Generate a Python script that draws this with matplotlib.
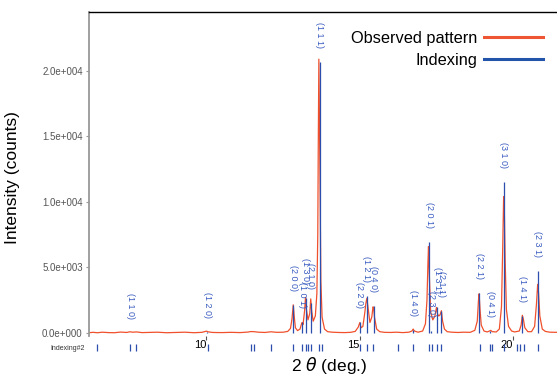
import numpy as np
import matplotlib
matplotlib.use("Agg")
import matplotlib.pyplot as plt
from matplotlib.lines import Line2D
import matplotlib.transforms as mtransforms

plt.rcParams['font.family'] = ['Liberation Sans', 'DejaVu Sans']

# observed pattern (2theta, counts)
obs_2theta = [6.17, 6.30, 6.45, 6.60, 6.80, 7.00, 7.20, 7.40, 7.50, 7.60,
              7.72, 7.90, 8.10, 8.40, 8.70, 9.00, 9.30, 9.60, 9.85, 10.00,
              10.05, 10.20, 10.50, 10.80, 11.10, 11.35, 11.45, 11.55, 11.70, 11.90,
              12.10, 12.30, 12.50, 12.65, 12.74, 12.79, 12.83, 12.86, 12.90, 12.97,
              13.05, 13.10, 13.12, 13.15, 13.20, 13.23, 13.26, 13.31, 13.37, 13.40,
              13.43, 13.48, 13.55, 13.60, 13.63, 13.645, 13.665, 13.70, 13.73, 13.77,
              13.85, 13.95, 14.10, 14.30, 14.50, 14.70, 14.85, 14.95, 15.00, 15.04,
              15.10, 15.16, 15.20, 15.23, 15.27, 15.33, 15.39, 15.43, 15.45, 15.48,
              15.55, 15.65, 15.80, 16.00, 16.20, 16.40, 16.60, 16.70, 16.74, 16.78,
              16.90, 17.05, 17.14, 17.19, 17.22, 17.24, 17.27, 17.31, 17.38, 17.45,
              17.50, 17.54, 17.58, 17.62, 17.66, 17.70, 17.76, 17.85, 18.00, 18.20,
              18.40, 18.60, 18.75, 18.83, 18.87, 18.89, 18.92, 18.96, 19.05, 19.15,
              19.23, 19.27, 19.32, 19.45, 19.55, 19.62, 19.66, 19.69, 19.71, 19.74,
              19.78, 19.85, 19.95, 20.05, 20.20, 20.26, 20.30, 20.33, 20.38, 20.48,
              20.60, 20.70, 20.76, 20.80, 20.83, 20.87, 20.95, 21.05, 21.20, 21.43]
obs_counts = [20, 50, 20, 60, 30, 20, 70, 40, 90, 60,
              80, 30, 40, 60, 20, 40, 60, 20, 50, 140,
              90, 40, 30, 50, 30, 70, 110, 100, 60, 40,
              90, 50, 60, 120, 350, 1100, 2150, 1300, 400, 180,
              300, 700, 800, 650, 1700, 2720, 1800, 1000, 1500, 2600,
              1700, 900, 1300, 3000, 7500, 14000, 20900, 12300, 4000, 1200,
              300, 100, 60, 40, 30, 50, 120, 450, 790, 400,
              500, 1500, 2300, 2650, 1900, 800, 1200, 2000, 1950, 1200,
              300, 100, 50, 40, 60, 30, 60, 150, 300, 150,
              60, 150, 700, 2500, 5200, 6600, 4200, 1600, 1000, 1300,
              1950, 1400, 1300, 1400, 1700, 900, 300, 100, 60, 40,
              60, 50, 200, 900, 2500, 2990, 1800, 600, 150, 80,
              150, 200, 100, 80, 300, 2000, 6500, 10400, 9800, 5500,
              1800, 500, 150, 80, 150, 600, 1350, 1100, 400, 100,
              100, 500, 2200, 3720, 3000, 1300, 300, 120, 60, 50]

# indexing sticks
idx_2theta = [7.51, 10.02, 12.83, 13.12, 13.23, 13.40, 13.70, 15.00, 15.23, 15.45,
              16.74, 17.26, 17.33, 17.52, 17.66, 18.90, 19.26, 19.70, 20.30, 20.81]
idx_counts = [30, 60, 2140, 860, 2670, 2290, 20700, 850, 2850, 2060,
              250, 6920, 150, 1980, 1680, 3030, 180, 11550, 1300, 4730]
idx_hkl = ["(1 1 0)", "(1 2 0)", "(2 0 0)", "(1 0 1)", "(1 3 0)", "(2 1 0)", "(1 1 1)",
           "(2 2 0)", "(1 2 1)", "(0 4 0)", "(1 4 0)", "(2 0 1)", "(2 3 0)", "(1 3 1)",
           "(2 1 1)", "(2 2 1)", "(0 4 1)", "(3 1 0)", "(1 4 1)", "(2 3 1)"]

# tick marks under the axis (Indexing#2 row)
mark_2theta = [6.42, 7.51, 7.71, 10.04, 11.44, 11.55, 12.09, 12.83, 13.12, 13.23,
               13.32, 13.40, 13.67, 13.77, 15.00, 15.22, 15.43, 16.26, 16.74, 17.26,
               17.34, 17.52, 17.66, 18.91, 19.23, 19.31, 19.69, 20.12, 20.23, 20.35, 20.80]

xticks = [10, 15, 20]
yticks = [0, 5000, 10000, 15000, 20000]
ytick_labels = ["0.0e+000", "5.0e+003", "1.0e+004", "1.5e+004", "2.0e+004"]

red = '#f0502c'
blue = '#2c4fae'

fig = plt.figure(figsize=(5.57, 3.76), dpi=100)
ax = fig.add_axes([89/557, 1-336/376, 468/557, 324/376])

ax.plot(obs_2theta, obs_counts, color=red, lw=0.9, zorder=2)
ax.vlines(idx_2theta, 0, idx_counts, color=blue, lw=0.9, zorder=3)

# hkl labels above each stick
for x, h, t in zip(idx_2theta, idx_counts, idx_hkl):
    ax.annotate(t, (x, h), xytext=(0, 10), textcoords='offset points',
                rotation=-90, ha='center', va='bottom', fontsize=6.5,
                color='#3a5cc0', zorder=4)

trans = mtransforms.blended_transform_factory(ax.transData, ax.transAxes)
ax.vlines(mark_2theta, -0.046, -0.025, transform=trans, color=blue,
          lw=0.9, clip_on=False)
fig.text(50/557, 1-348/376, "Indexing#2", fontsize=5, color='#333333',
         va='center', ha='left')

ax.set_xlim(6.17, 21.43)
ax.set_ylim(-230, 24500)

ax.spines['right'].set_visible(False)
ax.spines['bottom'].set_visible(False)
ax.spines['top'].set_color('black')
ax.spines['top'].set_linewidth(1.0)
ax.spines['left'].set_color('#999999')
ax.spines['left'].set_linewidth(1.3)

ax.set_yticks(yticks)
ax.set_yticklabels(ytick_labels)
ax.tick_params(axis='y', length=2.5, width=0.8, color='#999999',
               labelsize=7, labelcolor='#555555', pad=2)
ax.set_xticks(xticks)
ax.set_xticklabels([str(v) for v in xticks])
ax.tick_params(axis='x', length=3, width=0.8, color='#555555',
               labelsize=8, labelcolor='black', pad=0)
for lab in ax.get_xticklabels():
    lab.set_horizontalalignment('right')

ax.set_ylabel("Intensity (counts)", fontsize=12.5)
ax.yaxis.set_label_coords(-0.147, 0.488)
ax.set_xlabel(r"2 $\theta$ (deg.)", fontsize=12.5)
ax.xaxis.set_label_coords(0.513, -0.06)

handles = [Line2D([], [], color='#ee5533', lw=2.2),
           Line2D([], [], color='#2255aa', lw=2.2)]
ax.legend(handles, ["Observed pattern", "Indexing"], loc='upper right',
          bbox_to_anchor=(0.970, 0.942), markerfirst=False, frameon=False,
          fontsize=11.8, handlelength=3.6, handletextpad=0.4,
          labelspacing=0.45, borderpad=0, borderaxespad=0)

fig.savefig("out.png", dpi=100)
